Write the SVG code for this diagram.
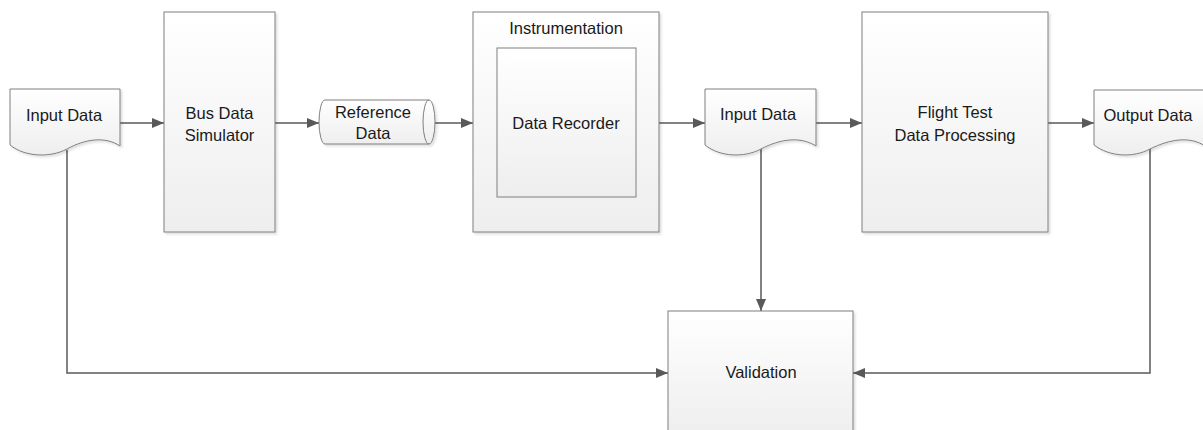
<svg xmlns="http://www.w3.org/2000/svg" width="1203" height="430" viewBox="0 0 1203 430">
<style>
.box{fill:url(#g);stroke:#7f7f7f;stroke-width:1;filter:url(#sh)}
.inner{fill:url(#g);stroke:#7f7f7f;stroke-width:1}
.t{font-family:"Liberation Sans",Arial,sans-serif;font-size:16.5px;fill:#1a1a1a;text-anchor:middle}
.c{fill:none;stroke:#595959;stroke-width:1.5}
.ca{fill:none;stroke:#595959;stroke-width:1.5;marker-end:url(#ah)}
</style>
<defs>
<linearGradient id="g" x1="0" y1="0" x2="0" y2="1">
<stop offset="0" stop-color="#ffffff"/>
<stop offset="1" stop-color="#eeeeee"/>
</linearGradient>
<filter id="sh" x="-10%" y="-10%" width="130%" height="130%">
<feDropShadow dx="2" dy="2" stdDeviation="1" flood-color="#000" flood-opacity="0.12"/>
</filter>
<marker id="ah" markerUnits="userSpaceOnUse" markerWidth="12" markerHeight="10" refX="12" refY="5" orient="auto">
<path d="M0,0 L12,5 L0,10 Z" fill="#595959"/>
</marker>
</defs>
<g id="connectors">
<line class="ca" x1="120" y1="123" x2="164" y2="123"/>
<line class="ca" x1="275" y1="123" x2="319" y2="123"/>
<line class="ca" x1="428" y1="123" x2="473" y2="123"/>
<line class="ca" x1="659" y1="123" x2="705" y2="123"/>
<line class="ca" x1="816" y1="123" x2="862" y2="123"/>
<line class="ca" x1="1048" y1="123" x2="1094" y2="123"/>
<line class="ca" x1="761" y1="148" x2="761" y2="311"/>
<polyline class="ca" points="67,150 67,373 668,373"/>
<polyline class="ca" points="1150,148 1150,373 853,373"/>
</g>
<g id="input-data-1">
<path class="box" d="M10,89 H120 V146 C105,136 85,139 67,149 C50,158 25,157 10,145 Z"/>
<text class="t" x="64" y="121">Input Data</text>
</g>
<g id="bus-data-simulator">
<rect class="box" x="164" y="12" width="111" height="220"/>
<text class="t" x="219.5" y="119">Bus Data</text>
<text class="t" x="219.5" y="141">Simulator</text>
</g>
<g id="reference-data">
<path class="box" d="M325,100 H429 A6,22 0 0 1 429,144 H325 A6,22 0 0 1 325,100 Z"/>
<path d="M429,100 A6,22 0 0 0 429,144" fill="none" stroke="#7f7f7f" stroke-width="1"/>
<text class="t" x="373" y="117.5">Reference</text>
<text class="t" x="373" y="139">Data</text>
</g>
<g id="instrumentation">
<rect class="box" x="473" y="12" width="186" height="220"/>
<text class="t" x="566" y="34">Instrumentation</text>
</g>
<g id="data-recorder">
<rect class="inner" x="497" y="48" width="139" height="149"/>
<text class="t" x="566" y="129">Data Recorder</text>
</g>
<g id="input-data-2">
<path class="box" d="M705,89 H816 V146 C800,136 780,139 761,149 C744,158 720,157 705,145 Z"/>
<text class="t" x="758" y="120">Input Data</text>
</g>
<g id="flight-test-data-processing">
<rect class="box" x="862" y="12" width="186" height="220"/>
<text class="t" x="955" y="118">Flight Test</text>
<text class="t" x="955" y="141">Data Processing</text>
</g>
<g id="output-data">
<path class="box" d="M1094,90 H1205 V146 C1190,136 1170,139 1150,149 C1133,158 1110,157 1094,145 Z"/>
<text class="t" x="1148" y="121">Output Data</text>
</g>
<g id="validation">
<rect class="box" x="668" y="311" width="185" height="125"/>
<text class="t" x="761" y="378">Validation</text>
</g>
</svg>
